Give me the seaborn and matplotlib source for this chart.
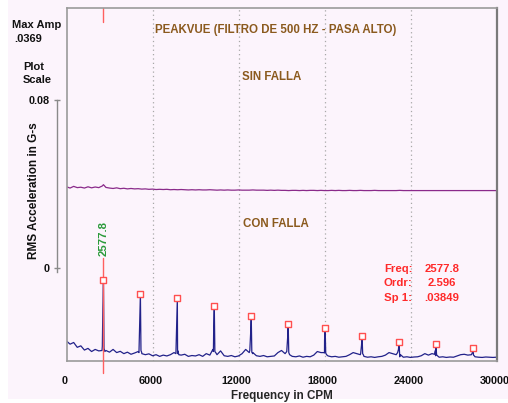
import numpy as np
import pandas as pd
import matplotlib
matplotlib.use("Agg")
import matplotlib.pyplot as plt
import matplotlib.patches as mpatches
import matplotlib.transforms as mtrans
import seaborn as sns

# ---- data -------------------------------------------------------------
# noise floor sampled every 250 CPM from 0 to 30000 CPM
floor_cpm = np.arange(0, 30001, 250)

con_falla_floor = [
    0.0095, 0.0080, 0.0088, 0.0065, 0.0072, 0.0052, 0.0060, 0.0045, 0.0055,
    0.0048, 0.0070,
    0.0050,
    0.0042, 0.0055, 0.0040, 0.0046, 0.0035, 0.0042, 0.0032, 0.0038, 0.0045,
    0.0040, 0.0030, 0.0034, 0.0025, 0.0030, 0.0022, 0.0028, 0.0024, 0.0030, 0.0040,
    0.0035, 0.0028, 0.0032, 0.0022, 0.0026, 0.0024, 0.0030, 0.0022, 0.0035, 0.0028,
    0.0045, 0.0030, 0.0048, 0.0025, 0.0022, 0.0026, 0.0020, 0.0024, 0.0035, 0.0055,
    0.0040, 0.0040, 0.0025, 0.0022, 0.0026, 0.0020, 0.0022, 0.0024, 0.0040, 0.0050,
    0.0035, 0.0042, 0.0022, 0.0020, 0.0024, 0.0018, 0.0022, 0.0020, 0.0028, 0.0045,
    0.0040, 0.0038, 0.0024, 0.0020, 0.0022, 0.0018, 0.0020, 0.0022, 0.0030, 0.0040,
    0.0035, 0.0030, 0.0022, 0.0018, 0.0020, 0.0017, 0.0020, 0.0022, 0.0028, 0.0040,
    0.0035, 0.0030, 0.0020, 0.0018, 0.0020, 0.0017, 0.0019, 0.0020, 0.0025, 0.0035,
    0.0028, 0.0035, 0.0025, 0.0018, 0.0020, 0.0017, 0.0019, 0.0018, 0.0024, 0.0030,
    0.0032, 0.0028, 0.0030, 0.0020, 0.0018, 0.0017, 0.0019, 0.0018, 0.0017, 0.0018,
]

sin_falla_floor = [
    0.0018, 0.0012, 0.0020, 0.0014, 0.0016, 0.0012, 0.0018, 0.0013, 0.0017, 0.0014, 0.0022,
    0.0015, 0.0012, 0.0010, 0.0013, 0.0009, 0.0011, 0.0008, 0.0010, 0.0008, 0.0009,
    0.0007, 0.0008, 0.0006, 0.0007, 0.0005, 0.0006, 0.0005, 0.0006, 0.0004, 0.0005,
    0.0004, 0.0005, 0.0004, 0.0003, 0.0004, 0.0003, 0.0004, 0.0003, 0.0003, 0.0004,
    0.0003, 0.0002, 0.0003, 0.0002, 0.0003, 0.0002, 0.0002, 0.0003, 0.0002, 0.0002,
    0.0002, 0.0003, 0.0002, 0.0002, 0.0002, 0.0001, 0.0002, 0.0001, 0.0002, 0.0001,
    0.0001, 0.0000, 0.0001, 0.0001, 0.0000, 0.0001, 0.0000, 0.0001, 0.0001, 0.0000,
    0.0001, 0.0000, 0.0000, 0.0001, 0.0000, 0.0001, 0.0000, 0.0000, 0.0001, 0.0000,
    0.0000, 0.0001, 0.0000, 0.0000, 0.0000, 0.0001, 0.0000, 0.0000, 0.0000, 0.0000,
    0.0000, 0.0000, 0.0001, 0.0000, 0.0000, 0.0000, 0.0000, 0.0000, 0.0000, 0.0000,
    0.0000, 0.0000, 0.0000, 0.0000, 0.0000, 0.0000, 0.0000, 0.0000, 0.0000, 0.0000,
    0.0000, 0.0000, 0.0000, 0.0000, 0.0000, 0.0000, 0.0000, 0.0000, 0.0000, 0.0000,
]

# running-speed harmonics of the faulty bearing (CPM) and their amplitudes (G-s)
harmonic_cpm = [2577.8, 5155.6, 7733.4, 10311.2, 12889.0, 15466.8,
                18044.6, 20622.4, 23200.2, 25778.0, 28355.8]
harmonic_g = [0.03849, 0.0318, 0.0298, 0.0261, 0.0214, 0.0176,
              0.0158, 0.0120, 0.0089, 0.0081, 0.0063]
# neighbouring bins of each harmonic line
shoulder_left_g = [0.0250, 0.0200, 0.0185, 0.0165, 0.0135, 0.0110,
                   0.0100, 0.0075, 0.0055, 0.0050, 0.0040]
shoulder_right_g = [0.0060, 0.0050, 0.0048, 0.0045, 0.0042, 0.0040,
                    0.0038, 0.0035, 0.0032, 0.0030, 0.0028]
base_left_g = [0.0050, 0.0040, 0.0035, 0.0055, 0.0050, 0.0045,
               0.0040, 0.0035, 0.0040, 0.0032, 0.0030]
base_right_g = [0.0045, 0.0035, 0.0030, 0.0040, 0.0035, 0.0030,
                0.0030, 0.0028, 0.0030, 0.0025, 0.0024]

sin_falla_peak_cpm = [2577.8]
sin_falla_peak_g = [0.0028]

sin_falla_offset = 0.0810  # vertical offset of the healthy trace

cursor_cpm = 2577.8
cursor_ordr = 2.596
cursor_amp = 0.03849

x_ticks = [0, 6000, 12000, 18000, 24000, 30000]
grid_cpm = [6000, 12000, 18000, 24000]
scale_zero = 0.0442  # where the 0 of the scale bar sits on the trace axis
scale_ticks = [0, 0.08]

# ---- build tables ------------------------------------------------------
con_cpm = (list(floor_cpm) + harmonic_cpm
           + [f - 40 for f in harmonic_cpm] + [f + 40 for f in harmonic_cpm]
           + [f - 100 for f in harmonic_cpm] + [f + 100 for f in harmonic_cpm])
con_g = (list(con_falla_floor) + harmonic_g + shoulder_left_g + shoulder_right_g
         + base_left_g + base_right_g)
con_df = pd.DataFrame({"cpm": con_cpm, "g": con_g}).sort_values("cpm")

sin_cpm = list(floor_cpm) + sin_falla_peak_cpm
sin_g = list(sin_falla_floor) + sin_falla_peak_g
sin_df = pd.DataFrame({"cpm": sin_cpm, "g": sin_g}).sort_values("cpm")
sin_df["g"] = sin_df["g"] + sin_falla_offset

peaks_df = pd.DataFrame({"cpm": harmonic_cpm, "g": harmonic_g})

# ---- style -------------------------------------------------------------
bg = "#fcf4fc"
sns.set_theme(style="white")
plt.rcParams["font.family"] = ["Liberation Sans", "DejaVu Sans"]
plt.rcParams["font.weight"] = "bold"

W, H = 508, 403
fig = plt.figure(figsize=(W / 100, H / 100), dpi=100)
fig.patch.set_facecolor("white")
fig.patches.append(mpatches.Rectangle((8 / W, 4 / H), 1 - 8 / W, 1 - 4 / H,
                                      transform=fig.transFigure,
                                      facecolor=bg, edgecolor="none", zorder=-10))

left, right, top, bottom = 66.5, 496.5, 8, 361
ax = fig.add_axes([left / W, 1 - bottom / H, (right - left) / W, (bottom - top) / H])
ax.set_facecolor(bg)

for x in grid_cpm:
    ax.axvline(x, color="#a8a8a8", lw=0.9, ls=(0, (1, 2.5)), zorder=0)

sns.lineplot(data=sin_df, x="cpm", y="g", ax=ax, color="#8a2a8a",
             lw=0.9, sort=False, estimator=None)
sns.lineplot(data=con_df, x="cpm", y="g", ax=ax, color="#22228a",
             lw=0.9, sort=False, estimator=None)
sns.scatterplot(data=peaks_df, x="cpm", y="g", ax=ax, marker="s", s=22,
                facecolor="white", edgecolor="#ff5050", linewidth=1.0, zorder=5)

ax.set_xlim(0, 30000)
ax.set_ylim(0, (bottom - top) / 2104)
ax.set_xticks(x_ticks)
ax.set_xticklabels([str(t) for t in x_ticks], fontsize=7.8, fontweight="bold")
ax.tick_params(axis="x", length=0, pad=11, colors="#111111")
shift = mtrans.ScaledTranslation(-2 / 100, 0, fig.dpi_scale_trans)
for lab in ax.get_xticklabels():
    lab.set_transform(lab.get_transform() + shift)
ax.set_yticks([])
ax.set_xlabel("Frequency in CPM", fontsize=8.4, fontweight="bold", labelpad=3)
ax.set_ylabel("")
for side, sp in ax.spines.items():
    sp.set_visible(True)
    sp.set_color("#9a9a9a")
    sp.set_linewidth(1.2)
ax.spines["right"].set_color("#7a7a7a")
ax.spines["right"].set_linewidth(1.6)

# cursor
px = (bottom - top) / ax.get_ylim()[1]
ax.plot([cursor_cpm, cursor_cpm], [ax.get_ylim()[1], ax.get_ylim()[1] - 14 / px],
        color="#ff6060", lw=1.0, clip_on=False)
ax.plot([cursor_cpm, cursor_cpm], [(bottom - 258) / px, -12 / px],
        color="#ff6060", lw=1.0, clip_on=False, zorder=4)
ax.text(cursor_cpm, (bottom - 238) / px, f"{cursor_cpm}", rotation=90,
        color="#2a9a3a", fontsize=8.2, fontweight="bold", ha="center", va="center")

# scale bar
sec = ax.secondary_yaxis(-0.022, functions=(lambda y: y - scale_zero,
                                            lambda y: y + scale_zero))
sec.set_yticks(scale_ticks)
sec.set_yticklabels(["0", "0.08"], fontsize=7.8, fontweight="bold")
sec.spines["left"].set_bounds(-0.002, 0.08)
sec.spines["left"].set_color("#8a8a8a")
sec.spines["left"].set_linewidth(1.0)
sec.tick_params(axis="y", direction="inout", length=5, width=1.0,
                color="#8a8a8a", pad=3, labelcolor="#111111")

# text annotations
brown = "#8b5a1e"
def ftext(x, y, s, **kw):
    fig.text(x / W, 1 - y / H, s, fontweight="bold", va="center", **kw)

ftext(276, 30, "PEAKVUE (FILTRO DE 500 HZ - PASA ALTO)", color=brown,
      fontsize=8.3, ha="center")
ftext(272, 77, "SIN FALLA", color=brown, fontsize=8.3, ha="center")
ftext(276, 224, "CON FALLA", color=brown, fontsize=8.3, ha="center")

ftext(12, 25, "Max Amp", color="#111111", fontsize=8.0, ha="left")
ftext(14, 39, ".0369", color="#111111", fontsize=8.0, ha="left")
ftext(34, 67, "Plot", color="#111111", fontsize=8.0, ha="center")
ftext(37, 80, "Scale", color="#111111", fontsize=8.0, ha="center")
fig.text(34 / W, 1 - 191 / H, "RMS Acceleration in G-s", rotation=90,
         fontsize=8.5, fontweight="bold", ha="center", va="center", color="#111111")

red = "#ff2a2a"
for y, lab, val in [(269, "Freq:", f"{cursor_cpm}"),
                    (283, "Ordr:", f"{cursor_ordr}"),
                    (298, "Sp 1:", f"{cursor_amp:.5f}".lstrip("0"))]:
    ftext(384, y, lab, color=red, fontsize=8.2, ha="left")
    ftext(442, y, val, color=red, fontsize=8.2, ha="center")

fig.savefig("out.png", dpi=100, facecolor=fig.get_facecolor())
